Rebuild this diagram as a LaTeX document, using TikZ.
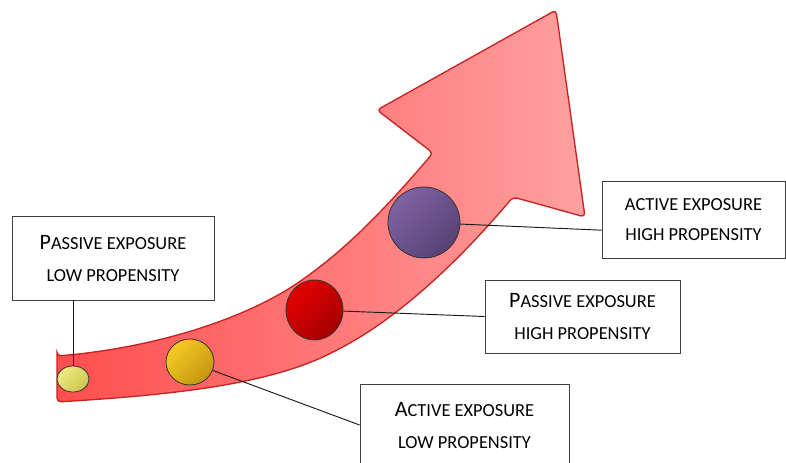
\documentclass[tikz,border=0pt]{standalone}
\usepackage{fontspec}
\setmainfont{Carlito}
\usepackage{tikz}
\usetikzlibrary{shapes.geometric}

\definecolor{arrowdark}{RGB}{255,78,78}
\definecolor{arrowlight}{RGB}{255,160,160}
\definecolor{arrowedge}{RGB}{200,35,35}

\newcommand{\initcap}[1]{{\fontsize{16.5}{18}\selectfont #1}}

\tikzset{
    labelbox/.style={draw=black!75, line width=0.6pt, fill=white, align=center,
        inner sep=0pt, font=\fontsize{13.8}{16}\selectfont},
    dot/.style={ellipse, draw=black!80, line width=0.6pt, inner sep=0pt},
    link/.style={draw=black!90, line width=0.7pt}
}

\begin{document}
\begin{tikzpicture}[x=0.75pt, y=-0.75pt]
    \clip (0,0) rectangle (786,462);

    % the rising arrow
    \draw[arrowedge, line width=1pt, left color=arrowdark, right color=arrowlight, rounded corners=3pt]
        (57,356) -- (57,402)
        .. controls (170,395) and (270,385) .. (337,350)
        .. controls (400,317) and (460,260) .. (513,197)
        -- (585,217) -- (556,10) -- (377,110) -- (433,153)
        .. controls (380,215) and (340,255) .. (290,288)
        .. controls (220,330) and (130,350) .. cycle;

    % markers on the arrow
    \node[dot, minimum width=24pt, minimum height=19.5pt,
        top color={rgb,255:red,240;green,236;blue,130}, bottom color={rgb,255:red,205;green,196;blue,80}, shading angle=45] (pl) at (73,379) {};
    \node[dot, minimum width=36pt, minimum height=34.5pt,
        top color={rgb,255:red,245;green,202;blue,35}, bottom color={rgb,255:red,196;green,150;blue,16}, shading angle=45] (al) at (190,362) {};
    \node[dot, minimum width=42.75pt, minimum height=45pt,
        top color={rgb,255:red,228;green,0;blue,0}, bottom color={rgb,255:red,165;green,0;blue,0}, shading angle=45] (ph) at (314.5,310) {};
    \node[dot, minimum width=54pt, minimum height=53.25pt,
        top color={rgb,255:red,128;green,98;blue,163}, bottom color={rgb,255:red,86;green,66;blue,116}, shading angle=45] (ah) at (424,222.5) {};

    % labels
    \node[labelbox, minimum width=151.5pt, minimum height=63pt] (PL) at (113,258)
        {\initcap{P}ASSIVE EXPOSURE\\[8pt]LOW PROPENSITY};
    \node[labelbox, minimum width=156.75pt, minimum height=61.5pt] (AL) at (464.5,425)
        {\initcap{A}CTIVE EXPOSURE\\[8pt]LOW PROPENSITY};
    \node[labelbox, minimum width=146.25pt, minimum height=54.75pt] (PH) at (582.5,316.5)
        {\initcap{P}ASSIVE EXPOSURE\\[8pt]HIGH PROPENSITY};
    \node[labelbox, minimum width=137.25pt, minimum height=57.75pt] (AH) at (693.5,219.5)
        {ACTIVE EXPOSURE\\[6pt]HIGH PROPENSITY};

    % connectors
    \draw[link] (pl.north) -- (pl.north |- PL.south);
    \draw[link] (al) -- (AL.west);
    \draw[link] (ph) -- (PH.west);
    \draw[link] (ah) -- ([yshift=-8pt]AH.west);
\end{tikzpicture}
\end{document}
